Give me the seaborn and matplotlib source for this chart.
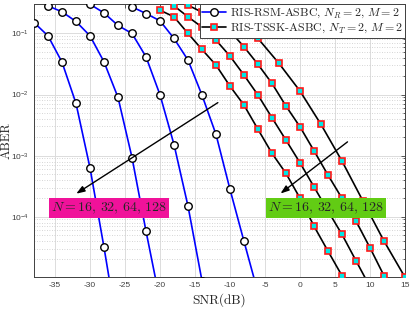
import numpy as np
import pandas as pd
import seaborn as sns
import matplotlib
matplotlib.use("Agg")
import matplotlib.pyplot as plt
from matplotlib.lines import Line2D

# ---- data (SNR in dB, ABER) ----
rsm_snr_1 = [-38, -36, -34, -32, -30, -28, -26]
rsm_aber_1 = [0.151, 0.0914, 0.0339, 0.00715, 6.3e-4, 3.15e-5, 1.3e-6]
rsm_snr_2 = [-36, -34, -32, -30, -28, -26, -24, -22, -20]
rsm_aber_2 = [0.283, 0.226, 0.157, 0.0914, 0.0343, 0.00897, 9.3e-4, 5.8e-5, 4.2e-6]
rsm_snr_3 = [-30, -28, -26, -24, -22, -20, -18, -16, -14]
rsm_aber_3 = [0.30, 0.217, 0.135, 0.100, 0.0414, 0.00989, 1.52e-3, 1.49e-4, 8.9e-6]
rsm_snr_4 = [-24, -22, -20, -18, -16, -14, -12, -10, -8, -6]
rsm_aber_4 = [0.272, 0.212, 0.161, 0.0828, 0.0366, 0.00977, 2.22e-3, 2.8e-4, 3.94e-5, 5.7e-6]

tssk_snr_1 = [-20, -18, -16, -14, -12, -10, -8, -6, -4, -2, 0, 2, 4, 6, 8]
tssk_aber_1 = [0.240, 0.187, 0.100, 0.0547, 0.0303, 0.0137, 0.00671, 0.00269,
               0.00109, 5.11e-4, 2.01e-4, 7.0e-5, 2.73e-5, 1.08e-5, 4.0e-6]
tssk_snr_2 = [-18, -16, -14, -12, -10, -8, -6, -4, -2, 0, 2, 4, 6, 8, 10]
tssk_aber_2 = [0.283, 0.187, 0.127, 0.0777, 0.0425, 0.0208, 0.00978, 0.00416,
               0.00179, 7.63e-4, 3.08e-4, 1.24e-4, 5.13e-5, 1.90e-5, 7.1e-6]
tssk_snr_3 = [-16, -14, -12, -10, -8, -6, -4, -2, 0, 2, 4, 6, 8, 10, 12, 14]
tssk_aber_3 = [0.290, 0.223, 0.165, 0.109, 0.0604, 0.0311, 0.0152, 0.00646,
               0.00296, 0.0012, 4.8e-4, 2.0e-4, 8.47e-5, 3.1e-5, 1.08e-5, 3.5e-6]
tssk_snr_4 = [-12, -9, -6, -3, 0, 3, 6, 9, 12, 15]
tssk_aber_4 = [0.29, 0.165, 0.0828, 0.0323, 0.0114, 0.00324, 8.13e-4, 1.8e-4, 3.99e-5, 1.02e-5]

rsm_curves = [(rsm_snr_1, rsm_aber_1), (rsm_snr_2, rsm_aber_2),
              (rsm_snr_3, rsm_aber_3), (rsm_snr_4, rsm_aber_4)]
tssk_curves = [(tssk_snr_1, tssk_aber_1), (tssk_snr_2, tssk_aber_2),
               (tssk_snr_3, tssk_aber_3), (tssk_snr_4, tssk_aber_4)]

legend_labels = [r"RIS-RSM-ASBC, $N_R = 2,\,M = 2$",
                 r"RIS-TSSK-ASBC, $N_T = 2,\,M = 2$"]
label_text = r"$N = 16,\,32,\,64,\,128$"

sns.set_style("white")
plt.rcParams["font.family"] = ["Liberation Sans", "DejaVu Sans"]
plt.rcParams["mathtext.fontset"] = "cm"
plt.rcParams["axes.unicode_minus"] = False

fig = plt.figure(figsize=(4.15, 3.12), dpi=100)
ax = fig.add_axes([34 / 415, 1 - 277 / 312, 371 / 415, 272.7 / 312])

for snr, aber in rsm_curves:
    sns.lineplot(x=snr, y=aber, ax=ax, color="#0000ff", lw=1.2, marker="o",
                 markersize=5.4, markerfacecolor="white", markeredgecolor="black",
                 markeredgewidth=1.0, sort=False, estimator=None, zorder=3)
for snr, aber in tssk_curves:
    sns.lineplot(x=snr, y=aber, ax=ax, color="black", lw=1.2, marker="s",
                 markersize=4.2, markerfacecolor="#00e5e5", markeredgecolor="#ff1a1a",
                 markeredgewidth=1.2, sort=False, estimator=None, zorder=3)

ax.set_yscale("log")
ax.set_xlim(-38, 15)
ax.set_ylim(1.03e-5, 0.30)
ax.set_xticks(np.arange(-35, 16, 5))

ax.grid(True, which="major", color="#dcdcdc", lw=0.7, ls="-")
ax.grid(True, which="minor", axis="y", color="#c8c8c8", lw=0.6, ls=(0, (1, 2)))
ax.set_axisbelow(True)
ax.tick_params(which="both", direction="in", top=True, right=True,
               labelsize=6, colors="#404040", width=0.6)
ax.tick_params(which="major", length=3)
ax.tick_params(which="minor", length=1.5)
for sp in ax.spines.values():
    sp.set_color("#404040")
    sp.set_linewidth(0.7)

ax.set_xlabel("SNR(dB)", fontfamily="cmr10", fontsize=9.5, color="#262626", labelpad=3)
ax.set_ylabel("ABER", fontfamily="cmr10", fontsize=9.2, color="#262626")
ax.yaxis.set_label_coords(-0.058, 0.5)

# arrows and N labels
ax.annotate("", xy=(-32.3, 2.25e-4), xytext=(-11.4, 7.8e-3),
            arrowprops=dict(arrowstyle="-|>,head_length=0.5,head_width=0.18",
                            color="black", lw=1.0), zorder=5)
ax.annotate("", xy=(-3.1, 2.25e-4), xytext=(7.1, 1.79e-3),
            arrowprops=dict(arrowstyle="-|>,head_length=0.5,head_width=0.18",
                            color="black", lw=1.0), zorder=5)
ax.text(-27.3, 1.38e-4, label_text, fontsize=10, ha="center", va="center", zorder=6,
        bbox=dict(boxstyle="square,pad=0.18", fc="#f0129a", ec="none"))
ax.text(3.7, 1.38e-4, label_text, fontsize=10, ha="center", va="center", zorder=6,
        bbox=dict(boxstyle="square,pad=0.18", fc="#62cc14", ec="none"))

handles = [
    Line2D([], [], color="#0000ff", lw=1.2, marker="o", markersize=5.4,
           markerfacecolor="white", markeredgecolor="black", markeredgewidth=1.0),
    Line2D([], [], color="black", lw=1.2, marker="s", markersize=4.2,
           markerfacecolor="#00e5e5", markeredgecolor="#ff1a1a", markeredgewidth=1.2),
]
leg = ax.legend(handles, legend_labels, loc="upper right", borderaxespad=0,
                fancybox=False, framealpha=1, edgecolor="#404040",
                prop={"family": "cmr10", "size": 8.6}, handlelength=2.0,
                handletextpad=0.3, borderpad=0.2, labelspacing=0.15)
leg.get_frame().set_linewidth(0.7)
leg.set_zorder(10)

fig.savefig("out.png", dpi=100)
